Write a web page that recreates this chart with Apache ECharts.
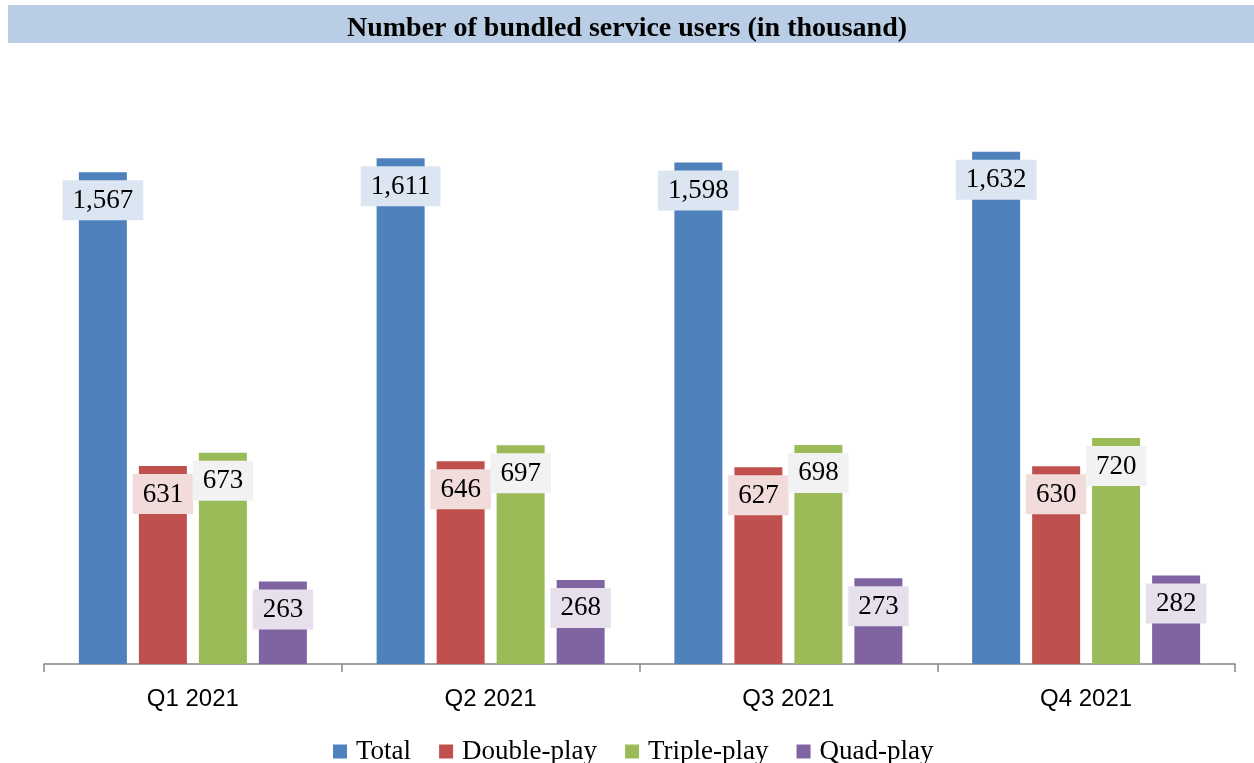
<!DOCTYPE html>
<html>
<head>
<meta charset="utf-8">
<script src="https://cdn.jsdelivr.net/npm/echarts@6/dist/echarts.min.js"></script>
<style>html,body{margin:0;padding:0;background:#fff}#c{width:1254px;height:763px}</style>
</head>
<body>
<div id="c"></div>
<script>
const categories = ['Q1 2021', 'Q2 2021', 'Q3 2021', 'Q4 2021'];
const totalUsers = [1567, 1611, 1598, 1632];
const doublePlay = [631, 646, 627, 630];
const triplePlay = [673, 697, 698, 720];
const quadPlay = [263, 268, 273, 282];
const seriesNames = ['Total', 'Double-play', 'Triple-play', 'Quad-play'];
const colors = ['#4f81bd', '#c0504d', '#9bbb59', '#8064a2'];
const labelBgs = ['#dce6f2', '#f2dcdb', '#f2f2f2', '#e6e0ec'];
const datasets = [totalUsers, doublePlay, triplePlay, quadPlay];

const chart = echarts.init(document.getElementById('c'), null, {renderer: 'canvas'});
const fmt = v => v.toLocaleString('en-US');
chart.setOption({
  animation: false,
  graphic: [{
    type: 'rect', left: 8, top: 5, shape: {width: 1246, height: 38},
    style: {fill: '#b9cde5'}, z: 0
  }],
  title: {
    text: 'Number of bundled service users (in thousand)',
    left: 'center', top: 10,
    textStyle: {fontFamily: 'Liberation Serif', fontWeight: 'bold', fontSize: 28, color: '#000'}
  },
  legend: {
    top: 733, left: 328,
    itemWidth: 14, itemHeight: 14, itemGap: 28,
    icon: 'rect',
    textStyle: {fontFamily: 'Liberation Serif', fontSize: 27, color: '#000', padding: [0, 0, 0, 4]},
    data: seriesNames
  },
  grid: {left: 44, right: 19, top: 99, bottom: 99},
  xAxis: {
    type: 'category', data: categories,
    axisLine: {lineStyle: {color: '#868686', width: 1.5}},
    axisTick: {show: true, length: 8, lineStyle: {color: '#868686', width: 1.5}},
    axisLabel: {fontFamily: 'Liberation Sans', fontSize: 24, color: '#000', margin: 23}
  },
  yAxis: {
    type: 'value', min: 0, max: 1800, show: false,
    splitLine: {show: false}
  },
  series: datasets.map((d, i) => ({
    name: seriesNames[i], type: 'bar', data: d,
    barWidth: 48, barGap: '25%',
    itemStyle: {color: colors[i]},
    label: {
      show: true, position: 'insideTop', distance: 8,
      formatter: p => fmt(p.value),
      fontFamily: 'Liberation Serif', fontSize: 27, color: '#000',
      backgroundColor: labelBgs[i], padding: [7, 10, 6, 10]
    }
  }))
});
</script>
</body>
</html>
